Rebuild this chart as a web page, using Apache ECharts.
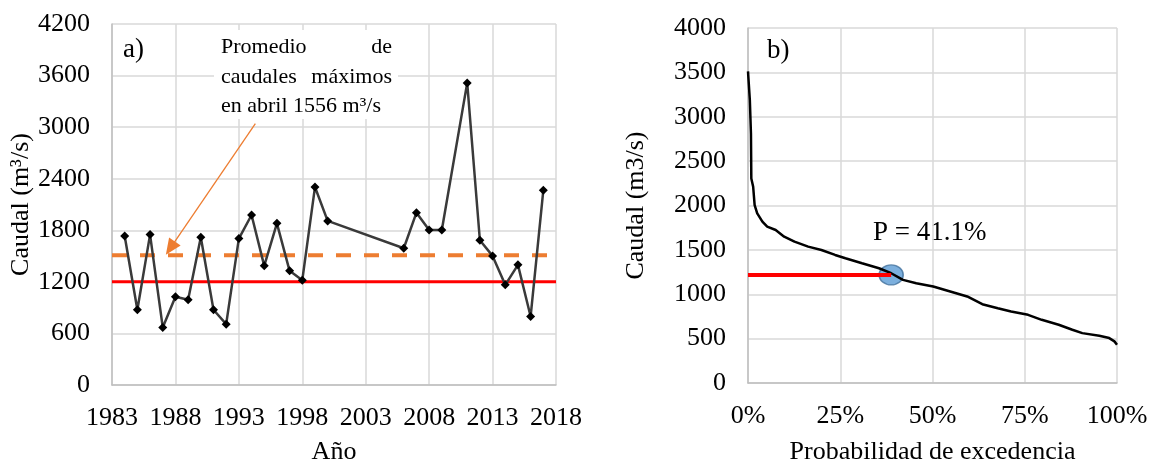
<!DOCTYPE html>
<html>
<head>
<meta charset="utf-8">
<script src="https://cdn.jsdelivr.net/npm/echarts@6/dist/echarts.min.js"></script>
<style>
  html, body { margin: 0; padding: 0; background: #fff; }
  #main { width: 1150px; height: 461px; }
</style>
</head>
<body>
<div id="main"></div>
<script>
// ---------- data: a) maximum April flow per year ----------
var years = [1984, 1985, 1986, 1987, 1988, 1989, 1990, 1991, 1992, 1993, 1994, 1995, 1996, 1997, 1998, 1999, 2000,
             2006, 2007, 2008, 2009, 2011, 2012, 2013, 2014, 2015, 2016, 2017];
var flowsA = [1734, 875, 1750, 670, 1026, 991, 1719, 875, 708, 1703, 1978, 1386, 1881, 1328, 1220, 2303, 1909,
              1591, 2005, 1804, 1804, 3515, 1684, 1502, 1165, 1398, 797, 2265];
var baseYear = 1983;
var endYear = 2018;
var avgLevel = 1510;     // orange dashed line
var refLevelA = 1200;    // red line in a)
var arrowFrom = [1994.3, 3040];
var arrowTo = [1987.6, 1592];

// ---------- data: b) flow duration curve ----------
var probs = [0, 0.5, 0.8, 0.9, 1.4, 1.8, 2.5, 3.9, 5.2, 7.5, 9.8, 12.6, 16.3, 19.9, 23.6, 26.4, 30.9, 35.5, 38.8,
             42.0, 45.6, 50.2, 54.8, 59.4, 63.5, 67.7, 71.3, 75.9, 79.6, 84.2, 87.9, 90.6, 95.2, 97.9, 99.3, 100];
var flowsB = [3512, 3186, 2811, 2305, 2211, 2005, 1912, 1818, 1762, 1724, 1649, 1593, 1537, 1499, 1443, 1406, 1349,
              1293, 1237, 1162, 1124, 1087, 1031, 975, 888, 843, 806, 768, 712, 656, 600, 562, 532, 506, 469, 431];
var refLevelB = 1218;
var pPoint = [38.8, 1218];

var font = 'Liberation Serif';
var gridColor = '#D9D9D9';
var axisColor = '#BFBFBF';

function yr(y) { return y - baseYear; }

var chart = echarts.init(document.getElementById('main'), null, { renderer: 'canvas' });

var axisLabel = { color: '#000', fontSize: 26, fontFamily: font };
var nameStyle = { color: '#000', fontSize: 26, fontFamily: font };
var splitLine = { show: true, lineStyle: { color: gridColor, width: 1.5 } };
var axisLine = { show: true, lineStyle: { color: axisColor, width: 1.5 } };
var plain = function (v) { return String(v); };

// annotation box text (white box over the grid)
function note(text, pos, top) {
  var s = { text: text, fontSize: 22, fontFamily: font, fill: '#000' };
  var el = { type: 'text', z: 11, top: top, style: s };
  if (pos === 'r') el.right = 1150 - 392; else el.left = 221;
  return el;
}

chart.setOption({
  animation: false,
  textStyle: { fontFamily: font },
  grid: [
    { left: 112, top: 24, width: 444, height: 361, containLabel: false, outerBoundsMode: 'none' },
    { left: 748, top: 28, width: 369, height: 355, containLabel: false, outerBoundsMode: 'none' }
  ],
  xAxis: [
    {
      gridIndex: 0, type: 'value', min: 0, max: endYear - baseYear, interval: 5,
      axisLabel: Object.assign({ margin: 20, formatter: function (v) { return String(v + baseYear); } }, axisLabel),
      axisLine: axisLine, axisTick: { show: false }, splitLine: splitLine,
      name: 'Año', nameLocation: 'middle', nameGap: 54, nameTextStyle: nameStyle
    },
    {
      gridIndex: 1, type: 'value', min: 0, max: 100, interval: 25,
      axisLabel: Object.assign({ margin: 20, formatter: '{value}%' }, axisLabel),
      axisLine: axisLine, axisTick: { show: false }, splitLine: splitLine,
      name: 'Probabilidad de excedencia', nameLocation: 'middle', nameGap: 56, nameTextStyle: nameStyle
    }
  ],
  yAxis: [
    {
      gridIndex: 0, type: 'value', min: 0, max: 4200, interval: 600,
      axisLabel: Object.assign({ margin: 22, formatter: plain }, axisLabel),
      axisLine: axisLine, axisTick: { show: false }, splitLine: splitLine,
      name: 'Caudal (m³/s)', nameLocation: 'middle', nameGap: 76, nameRotate: 90, nameTextStyle: nameStyle
    },
    {
      gridIndex: 1, type: 'value', min: 0, max: 4000, interval: 500,
      axisLabel: Object.assign({ margin: 22, formatter: plain }, axisLabel),
      axisLine: axisLine, axisTick: { show: false }, splitLine: splitLine,
      name: 'Caudal (m3/s)', nameLocation: 'middle', nameGap: 99, nameRotate: 90, nameTextStyle: nameStyle
    }
  ],
  series: [
    {
      type: 'line', xAxisIndex: 0, yAxisIndex: 0, symbol: 'none', silent: true,
      data: [[0, refLevelA], [yr(endYear), refLevelA]],
      lineStyle: { color: '#FF0000', width: 3 }
    },
    {
      type: 'line', xAxisIndex: 0, yAxisIndex: 0, symbol: 'none', silent: true,
      data: [[0, avgLevel], [yr(endYear) - 0.5, avgLevel]],
      lineStyle: { color: '#ED7D31', width: 4, type: [15, 13] },
      markLine: {
        silent: true,
        symbol: ['none', 'triangle'],
        symbolSize: [14, 16],
        label: { show: false },
        lineStyle: { color: '#ED7D31', width: 1.3, type: 'solid' },
        data: [[{ coord: [yr(arrowFrom[0]), arrowFrom[1]] }, { coord: [yr(arrowTo[0]), arrowTo[1]] }]]
      }
    },
    {
      type: 'line', xAxisIndex: 0, yAxisIndex: 0,
      data: years.map(function (y, i) { return [yr(y), flowsA[i]]; }),
      symbol: 'diamond', symbolSize: 9,
      itemStyle: { color: '#000' },
      lineStyle: { color: '#3A3A3A', width: 2.5 }
    },
    {
      type: 'line', xAxisIndex: 1, yAxisIndex: 1, symbol: 'none',
      data: probs.map(function (p, i) { return [p, flowsB[i]]; }),
      lineStyle: { color: '#000', width: 2.5 }
    },
    {
      type: 'line', xAxisIndex: 1, yAxisIndex: 1, symbol: 'none', silent: true,
      data: [[0, refLevelB], [pPoint[0], refLevelB]],
      lineStyle: { color: '#FF0000', width: 4 }
    },
    {
      type: 'scatter', xAxisIndex: 1, yAxisIndex: 1,
      data: [pPoint],
      symbol: 'circle', symbolSize: [24, 20],
      itemStyle: { color: '#5B9BD5', borderColor: '#41719C', borderWidth: 1.5 }
    }
  ],
  graphic: [
    { type: 'rect', z: 10, shape: { x: 214, y: 30, width: 184, height: 89 }, style: { fill: '#fff' } },
    note('Promedio', 'l', 36),
    note('de', 'r', 36),
    note('caudales', 'l', 66),
    note('máximos', 'r', 66),
    note('en abril 1556 m³/s', 'l', 95),
    { type: 'text', left: 123, top: 36, style: { text: 'a)', fontSize: 27, fontFamily: font, fill: '#000' } },
    { type: 'text', left: 767, top: 37, style: { text: 'b)', fontSize: 27, fontFamily: font, fill: '#000' } },
    { type: 'text', left: 873, top: 219, style: { text: 'P = 41.1%', fontSize: 27, fontFamily: font, fill: '#000' } }
  ]
});
</script>
</body>
</html>
